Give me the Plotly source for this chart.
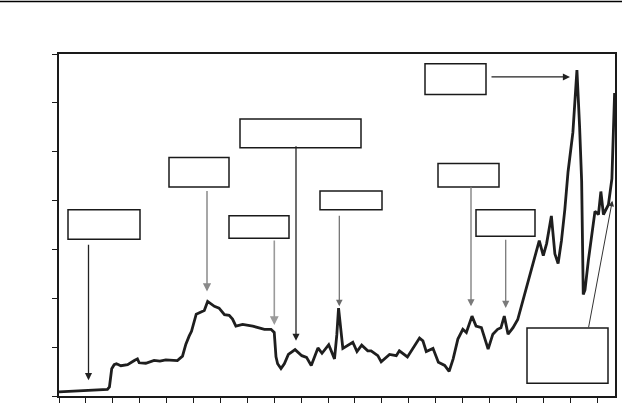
import plotly.graph_objects as go

# crude oil price, US$ per barrel
years = [
    1970.0, 1971.0, 1972.0, 1973.6, 1973.75, 1973.92, 1974.1, 1974.27, 1974.6, 1975.1,
    1975.6, 1975.83, 1975.96, 1976.45, 1977.07, 1977.5, 1977.94, 1978.8, 1979.18, 1979.43,
    1979.68, 1979.85, 1980.2, 1980.55, 1980.8, 1981.05, 1981.3, 1981.55, 1981.9, 1982.3,
    1982.65, 1982.9, 1983.15, 1983.65, 1984.4, 1984.9, 1985.27, 1985.76, 1986.0, 1986.13,
    1986.25, 1986.5, 1986.75, 1987.05, 1987.55, 1988.05, 1988.4, 1988.75, 1989.0, 1989.25,
    1989.55, 1990.05, 1990.48, 1990.65, 1990.78, 1990.95, 1991.1, 1991.84, 1992.15, 1992.5,
    1992.95, 1993.2, 1993.7, 1993.95, 1994.57, 1995.07, 1995.3, 1995.9, 1996.3, 1996.8,
    1997.05, 1997.3, 1997.8, 1998.2, 1998.67, 1999.0, 1999.3, 1999.65, 2000.02, 2000.28,
    2000.7, 2001.0, 2001.4, 2001.64, 2001.9, 2002.25, 2002.6, 2002.85, 2003.1, 2003.38,
    2003.75, 2004.1, 2004.5, 2004.75, 2005.2, 2005.7, 2006.0, 2006.25, 2006.6, 2006.86,
    2007.1, 2007.35, 2007.6, 2007.84, 2008.2, 2008.5, 2008.7, 2008.85, 2008.97, 2009.1,
    2009.35, 2009.6, 2009.84, 2010.1, 2010.28, 2010.47, 2010.84, 2011.1, 2011.3,
]
price = [
    1.7, 2.0, 2.3, 2.7, 3.7, 11.2, 12.8, 13.2, 12.4, 12.8,
    14.5, 15.2, 13.6, 13.4, 14.6, 14.3, 14.8, 14.5, 16.3, 21.2,
    24.6, 26.5, 33.5, 34.5, 35.0, 38.7, 37.5, 36.7, 36.0, 33.3,
    33.0, 31.5, 28.6, 29.3, 28.6, 27.9, 27.3, 27.3, 26.0, 16.0,
    13.2, 11.2, 13.2, 17.0, 19.0, 16.5, 15.8, 12.5, 16.0, 19.7,
    17.5, 21.0, 15.2, 25.0, 36.0, 28.0, 19.5, 22.0, 18.2, 20.8,
    18.5, 18.5, 16.5, 14.0, 17.0, 16.5, 18.5, 16.0, 19.5, 23.7,
    22.6, 18.2, 19.5, 13.8, 12.5, 10.1, 15.2, 23.3, 27.3, 26.0,
    32.7, 28.6, 28.0, 23.3, 19.2, 25.3, 27.3, 27.9, 32.7, 25.3,
    28.0, 31.3, 39.4, 44.8, 52.8, 63.6, 57.5, 62.5, 73.7, 58.2,
    54.2, 63.6, 76.3, 91.8, 107.9, 133.4, 110.0, 88.0, 41.6, 43.4,
    55.5, 66.2, 75.6, 74.3, 83.7, 74.3, 78.3, 89.0, 124.0,
]

W, H = 622, 406
L, R, T, B = 59, 7, 54, 5
PW, PH = W - L - R, H - T - B


def pp(x, y):
    # page pixel -> paper coordinates
    return (x - L) / PW, (H - B - y) / PH


fig = go.Figure()
fig.add_trace(go.Scatter(x=years, y=price, mode='lines',
                         line=dict(color='#1e1e1e', width=2.8), hoverinfo='skip'))

# empty label boxes (page pixels: x0, y0, x1, y1)
boxes = [
    (68, 212, 140, 242), (169, 159, 229, 189), (229, 218, 289, 241),
    (240, 120, 361, 149), (320, 193, 382, 212), (425, 64, 486, 95),
    (438, 165, 499, 189), (476, 212, 535, 239), (527, 332, 608, 388),
]
shapes = []
for x0, y0, x1, y1 in boxes:
    a0, b0 = pp(x0, y1)
    a1, b1 = pp(x1, y0)
    shapes.append(dict(type='rect', xref='paper', yref='paper', x0=a0, y0=b0, x1=a1, y1=b1,
                       line=dict(color='#1a1a1a', width=1.5), fillcolor='white', layer='above'))

# thin rule across the top of the page
a0, b0 = pp(0, 0.8)
a1, _ = pp(W, 0.8)
shapes.append(dict(type='line', xref='paper', yref='paper', x0=a0, x1=a1, y0=b0, y1=b0,
                   line=dict(color='black', width=1.6)))

# arrows (tail x, tail y, head x, head y, colour, width)
arrows = [
    (88.5, 248, 88.5, 385, '#222222', 1.3),
    (207, 193, 207, 295, '#8a8a8a', 1.5),
    (274.3, 243, 274.3, 329, '#9a9a9a', 1.6),
    (296, 149, 296, 345, '#222222', 1.3),
    (339.3, 218, 339.3, 310, '#6a6a6a', 1.2),
    (490, 77.3, 570, 77.3, '#222222', 1.3),
    (471, 189, 471, 310, '#7a7a7a', 1.3),
    (505.7, 242, 505.7, 311.7, '#7a7a7a', 1.3),
    (588.3, 331, 612.3, 203, '#333333', 1.0),
]
annotations = []
for tx, ty, hx, hy, col, w in arrows:
    ax_, ay_ = pp(hx, hy)
    annotations.append(dict(xref='paper', yref='paper', x=ax_, y=ay_, text='',
                            showarrow=True, ax=tx - hx, ay=ty - hy,
                            arrowhead=2, arrowsize=1.1, arrowwidth=w, arrowcolor=col))

fig.update_layout(
    width=W, height=H,
    margin=dict(l=L, r=R, t=T, b=B),
    plot_bgcolor='white', paper_bgcolor='white',
    showlegend=False,
    shapes=shapes, annotations=annotations,
    xaxis=dict(range=[1970, 2011.33], tickmode='linear', tick0=1970, dtick=2,
               ticks='outside', ticklen=5, tickwidth=1.2, tickcolor='#1a1a1a',
               showticklabels=False, showgrid=False, zeroline=False,
               showline=True, linecolor='#1a1a1a', linewidth=1.5, mirror=True),
    yaxis=dict(range=[0, 140], tickmode='linear', tick0=0, dtick=20,
               ticks='outside', ticklen=5, tickwidth=1.2, tickcolor='#1a1a1a',
               showticklabels=False, showgrid=False, zeroline=False,
               showline=True, linecolor='#1a1a1a', linewidth=1.5, mirror=True),
)

# page has a default 8px body margin; drop it so the figure sits at the window corner
fig.write_html("out.html", config={'displayModeBar': False},
               post_script="document.body.style.margin='0';")
